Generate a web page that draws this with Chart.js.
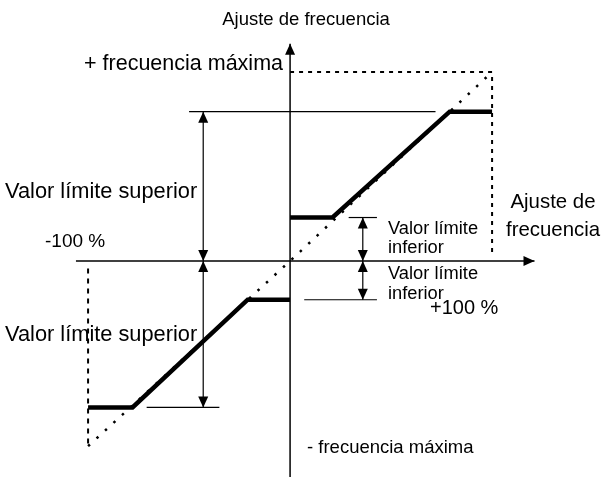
<!DOCTYPE html>
<html><head><meta charset="utf-8">
<script src="https://cdn.jsdelivr.net/npm/chart.js@4/dist/chart.umd.min.js"></script>
<style>html,body{margin:0;padding:0;background:#fff}</style>
</head><body>
<canvas id="c" width="605" height="477"></canvas>
<script>
// ---- data (x: setpoint %, y: frequency % of max) ----
const axisHX = [-106, 121];            const axisHY = [0, 0];
const axisVX = [0, 0];                 const axisVY = [-116, 115];
const upperCurveX = [0, 21, 79, 100];  const upperCurveY = [23, 23, 79, 79];
const lowerCurveX = [0, -21, -78, -100]; const lowerCurveY = [-20.5, -20.5, -77.5, -77.5];
const diagX = [-100, 0, 100];          const diagY = [-98, 0, 100];
const maxFreqX = [0, 100, 100];        const maxFreqY = [100, 100, 3];
const minSetX = [-100, -100];          const minSetY = [-4, -98];
const upperLimRefX = [-50, 72];        const upperLimRefY = [79, 79];
const upperLimArrX = [-43, -43];       const upperLimArrY = [79, 0];
const lowerNegArrX = [-43, -43];       const lowerNegArrY = [0, -77.5];
const lowerNegRefX = [-71, -35];       const lowerNegRefY = [-77.5, -77.5];
const lowLimRefX = [29, 43];           const lowLimRefY = [23, 23];
const lowLimArrX = [36, 36];           const lowLimArrY = [23, 0];
const lowNegArrX = [36, 36];           const lowNegArrY = [0, -20.5];
const lowNegRefX = [7, 43];            const lowNegRefY = [-20.5, -20.5];

const labelTexts = {
  yTitle: 'Ajuste de frecuencia',
  maxPos: '+ frecuencia máxima',
  maxNeg: '- frecuencia máxima',
  upSup: 'Valor límite superior',
  loSup: 'Valor límite superior',
  xTitle1: 'Ajuste de', xTitle2: 'frecuencia',
  minus100: '-100 %', plus100: '+100 %',
  inf1a: 'Valor límite', inf1b: 'inferior',
  inf2a: 'Valor límite', inf2b: 'inferior'
};

const pts = (xs, ys) => xs.map((x, i) => ({x: x, y: ys[i]}));
function line(xs, ys, opts) {
  return Object.assign({data: pts(xs, ys), showLine: true, borderColor: '#000',
    borderWidth: 1.2, pointRadius: 0, fill: false, tension: 0, clip: false}, opts || {});
}

const arrowPlugin = {
  id: 'arrows',
  afterDatasetsDraw(chart) {
    const ctx = chart.ctx;
    chart.data.datasets.forEach((ds, i) => {
      if (!ds.arrows) return;
      const p = chart.getDatasetMeta(i).data;
      const draw = (tip, from) => {
        const a = Math.atan2(tip.y - from.y, tip.x - from.x);
        const L = 11, W = 5;
        ctx.save(); ctx.fillStyle = '#000'; ctx.beginPath();
        ctx.moveTo(tip.x, tip.y);
        ctx.lineTo(tip.x - L * Math.cos(a) + W * Math.sin(a), tip.y - L * Math.sin(a) - W * Math.cos(a));
        ctx.lineTo(tip.x - L * Math.cos(a) - W * Math.sin(a), tip.y - L * Math.sin(a) + W * Math.cos(a));
        ctx.closePath(); ctx.fill(); ctx.restore();
      };
      if (ds.arrows.includes('end')) draw(p[p.length - 1], p[p.length - 2]);
      if (ds.arrows.includes('start')) draw(p[0], p[1]);
    });
  }
};

const textPlugin = {
  id: 'texts',
  afterDraw(chart) {
    const ctx = chart.ctx;
    const f = s => s + 'px "Liberation Sans", Arial, sans-serif';
    const items = [
      [labelTexts.yTitle, 306, 25, 'center', f(18.5)],
      [labelTexts.maxPos, 283, 70, 'right', f(21.5)],
      [labelTexts.upSup, 5, 198, 'left', f(21.8)],
      [labelTexts.minus100, 45, 247, 'left', f(19)],
      [labelTexts.xTitle1, 553, 208, 'center', f(20.4)],
      [labelTexts.xTitle2, 553, 236, 'center', f(20.4)],
      [labelTexts.inf1a, 388, 234, 'left', f(18.3)],
      [labelTexts.inf1b, 388, 253, 'left', f(18.3)],
      [labelTexts.inf2a, 388, 279, 'left', f(18.3)],
      [labelTexts.inf2b, 388, 299, 'left', f(18.3)],
      [labelTexts.plus100, 430, 314, 'left', f(20)],
      [labelTexts.loSup, 5, 341, 'left', f(21.8)],
      [labelTexts.maxNeg, 307, 453, 'left', f(18.5)]
    ];
    ctx.save(); ctx.fillStyle = '#000'; ctx.textBaseline = 'alphabetic';
    items.forEach(([t, x, y, al, fo]) => { ctx.font = fo; ctx.textAlign = al; ctx.fillText(t, x, y); });
    ctx.restore();
  }
};

new Chart(document.getElementById('c'), {
  type: 'scatter',
  data: { datasets: [
    line(diagX, diagY, {borderWidth: 2.5, borderDash: [2.5, 9]}),
    line(maxFreqX, maxFreqY, {borderWidth: 2, borderDash: [4, 5]}),
    line(minSetX, minSetY, {borderWidth: 2, borderDash: [5, 5]}),
    line(axisHX, axisHY, {borderWidth: 1.5, arrows: ['end']}),
    line(axisVX, axisVY, {borderWidth: 1.5, arrows: ['end']}),
    line(upperLimRefX, upperLimRefY, {borderWidth: 1.2}),
    line(upperLimArrX, upperLimArrY, {borderWidth: 1.2, arrows: ['start', 'end']}),
    line(lowerNegArrX, lowerNegArrY, {borderWidth: 1.2, arrows: ['start', 'end']}),
    line(lowerNegRefX, lowerNegRefY, {borderWidth: 1.2}),
    line(lowLimRefX, lowLimRefY, {borderWidth: 1.2}),
    line(lowLimArrX, lowLimArrY, {borderWidth: 1.2, arrows: ['start', 'end']}),
    line(lowNegArrX, lowNegArrY, {borderWidth: 1.2, arrows: ['start', 'end']}),
    line(lowNegRefX, lowNegRefY, {borderWidth: 1.2}),
    line(upperCurveX, upperCurveY, {borderWidth: 4.5, borderJoinStyle: 'miter'}),
    line(lowerCurveX, lowerCurveY, {borderWidth: 4.5, borderJoinStyle: 'miter'})
  ]},
  options: {
    responsive: false, animation: false,
    layout: {padding: 0},
    plugins: {legend: {display: false}, tooltip: {enabled: false}, title: {display: false}},
    scales: {
      x: {type: 'linear', display: false, min: -143.6, max: 155.9},
      y: {type: 'linear', display: false, min: -114.3, max: 138.1}
    }
  },
  plugins: [arrowPlugin, textPlugin]
});
</script>
</body></html>
